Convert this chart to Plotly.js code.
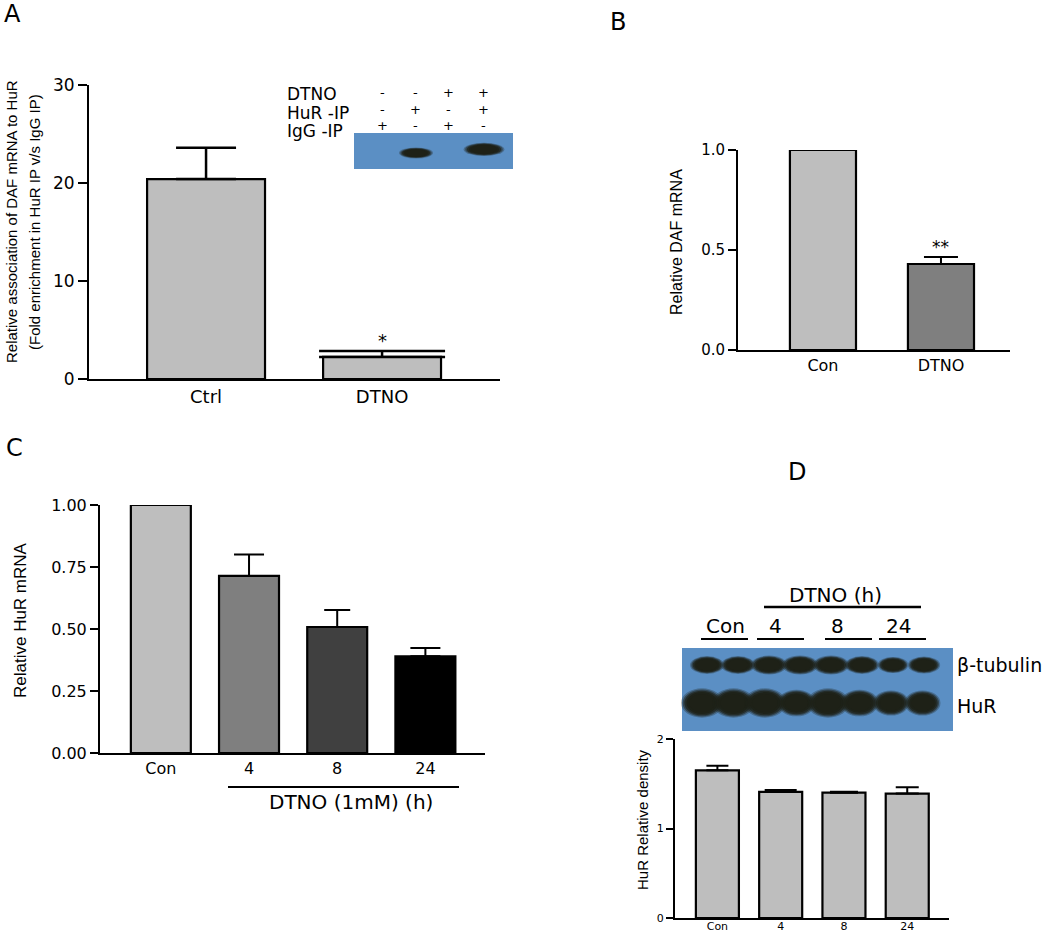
<!DOCTYPE html>
<html><head><meta charset="utf-8">
<script src="https://cdn.plot.ly/plotly-3.0.1.min.js"></script>
<style>html,body{margin:0;padding:0;background:#fff}</style>
</head><body><div id="chart" style="width:1050px;height:934px"></div>
<script>
// ---------- DATA ----------
// Panel A: RNA-IP
const catsA = ['Ctrl', 'DTNO'];
const valsA = [20.4, 2.25];
const errA = [3.2, 0.6];
const sigA = ['', '*'];
// Panel B: DAF mRNA
const catsB = ['Con', 'DTNO'];
const valsB = [1.0, 0.43];
const errB = [0, 0.035];
const sigB = ['', '**'];
// Panel C: HuR mRNA
const catsC = ['Con', '4', '8', '24'];
const valsC = [1.0, 0.714, 0.508, 0.39];
const errC = [0, 0.086, 0.069, 0.033];
const sigC = ['', '', '†', '‡'];
// Panel D: HuR relative density
const catsD = ['Con', '4', '8', '24'];
const valsD = [1.65, 1.41, 1.40, 1.39];
const errD = [0.05, 0.02, 0.01, 0.07];
// Blot A labels / signs / band intensities
const blotARows = ['DTNO', 'HuR -IP', 'IgG -IP'];
const blotASigns = [['-', '-', '+', '+'], ['-', '+', '-', '+'], ['+', '-', '+', '-']];
const bandA = [0, 1, 0, 1.2];
// Blot D labels / band intensities
const blotDGroup = 'DTNO (h)';
const blotDLanes = ['Con', '4', '8', '24'];
const blotDRows = ['β-tubulin', 'HuR'];
const bandTub = [1, 1, 1.05, 1.05, 1.05, 1, 0.9, 0.95];
const bandHuR = [1.05, 1.05, 1.05, 0.95, 1.05, 0.95, 0.9, 0.9];
const xTitleC = 'DTNO (1mM) (h)';

// ---------- HELPERS ----------
const W = 1050, H = 934;
const px = x => x / W, py = y => 1 - y / H;
const FONT = 'DejaVu Sans, Verdana, Arial, sans-serif';
const NARROW = 'Liberation Sans Narrow, Arial Narrow, Liberation Sans, Arial, sans-serif';
const traces = [], shapes = [], annotations = [];

function barPanel(ax, cats, vals, errs, colors, barWidth, capW, thick) {
  const xa = 'x' + ax, ya = 'y' + ax;
  traces.push({
    type: 'bar', x: cats, y: vals, xaxis: xa, yaxis: ya, width: barWidth, cliponaxis: false,
    marker: {color: colors, line: {color: '#000', width: 2.2}}, hoverinfo: 'skip'
  });
  cats.forEach((c, i) => {
    if (!errs[i]) return;
    traces.push({
      type: 'scatter', mode: 'markers', x: [c], y: [vals[i]], xaxis: xa, yaxis: ya,
      marker: {opacity: 0, size: 1}, hoverinfo: 'skip', cliponaxis: false,
      error_y: {type: 'data', symmetric: false, array: [errs[i]], arrayminus: [0],
        color: '#000', thickness: thick, width: capW[i]}
    });
  });
}
function sigMarks(ax, cats, vals, errs, sigs, size, shift) {
  cats.forEach((c, i) => {
    if (!sigs[i]) return;
    annotations.push({xref: 'x' + ax, yref: 'y' + ax, x: c, y: vals[i] + errs[i],
      text: sigs[i], showarrow: false, yanchor: 'bottom', yshift: shift,
      font: {family: FONT, size: size, color: '#000'}});
  });
}
function txt(x, y, text, size, opts) {
  annotations.push(Object.assign({xref: 'paper', yref: 'paper', x: px(x), y: py(y), text: text,
    showarrow: false, xanchor: 'center', yanchor: 'middle',
    font: {family: FONT, size: size, color: '#000'}}, opts || {}));
}
function vtxt(x, y, text, size) {
  txt(x, y, text, size, {textangle: -90, font: {family: NARROW, size: size, color: '#000'}});
}
function hline(x0, x1, y, w) {
  shapes.push({type: 'line', xref: 'paper', yref: 'paper', x0: px(x0), x1: px(x1), y0: py(y), y1: py(y),
    line: {color: '#000', width: w}});
}
function band(cx, cy, w, h) {
  const layers = [[1.0, 0.3], [0.92, 0.5], [0.84, 0.7], [0.74, 0.9], [0.62, 1.0]];
  layers.forEach(([s, op]) => {
    shapes.push({type: 'circle', xref: 'paper', yref: 'paper',
      x0: px(cx - w * s / 2), x1: px(cx + w * s / 2), y0: py(cy + h * s / 2), y1: py(cy - h * s / 2),
      fillcolor: '#1e2117', opacity: op, line: {width: 0}});
  });
}
function xax(dom, range, cats, size) {
  return {domain: [px(dom[0]), px(dom[1])], range: range, type: 'category', categoryarray: cats,
    showline: true, linecolor: '#000', linewidth: 2, ticks: '', showgrid: false, zeroline: false,
    tickfont: {family: FONT, size: size, color: '#000'}, fixedrange: true};
}
function yax(dom, range, dtick, fmt, size, tl) {
  return {domain: [py(dom[1]), py(dom[0])], range: range, dtick: dtick, tick0: 0, tickformat: fmt,
    showline: true, linecolor: '#000', linewidth: 2, ticks: 'outside', ticklen: tl, tickwidth: 2,
    tickcolor: '#000', showgrid: false, zeroline: false,
    tickfont: {family: FONT, size: size, color: '#000'}, fixedrange: true};
}

// ---------- PANEL A ----------
barPanel('', catsA, valsA, errA, ['#bebebe', '#bebebe'], 0.67, [30, 63], 2.5);
sigMarks('', catsA, valsA, errA, sigA, 18, -2);
vtxt(11, 222, 'Relative association of DAF mRNA to HuR', 15);
vtxt(34, 222, '(Fold enrichment in HuR IP v/s IgG IP)', 15);
txt(12, 14, 'A', 24);
// inset blot A
shapes.push({type: 'rect', xref: 'paper', yref: 'paper', x0: px(354), x1: px(513), y0: py(169), y1: py(133),
  fillcolor: '#5b8fc4', line: {width: 0}});
const laneA = [383, 416, 449, 484];
bandA.forEach((v, i) => { if (v) band(laneA[i], 153 - (v - 1) * 18, 34 * v, 11 * v); });
const rowYA = [94, 113, 131], signY = [93, 109, 125];
blotARows.forEach((r, j) => {
  txt(285, rowYA[j], r, 17, {xanchor: 'left'});
  blotASigns[j].forEach((s, i) => txt(laneA[i] - 1, signY[j], s, 13));
});

// ---------- PANEL B ----------
barPanel('2', catsB, valsB, errB, ['#bebebe', '#7f7f7f'], 0.56, [0, 17], 2);
sigMarks('2', catsB, valsB, errB, sigB, 17, -2);
vtxt(677, 242, 'Relative DAF mRNA', 16);
txt(618, 22, 'B', 24);

// ---------- PANEL C ----------
barPanel('3', catsC, valsC, errC, ['#bebebe', '#7f7f7f', '#404040', '#000000'], 0.68, [0, 15, 13, 15], 2);
sigMarks('3', catsC, valsC, errC, sigC, 18, 4);
vtxt(20, 620, 'Relative HuR mRNA', 17);
txt(14, 448, 'C', 24);
hline(228, 459, 787, 2.2);
txt(351, 802, xTitleC, 20);

// ---------- PANEL D ----------
barPanel('4', catsD, valsD, errD, ['#bebebe', '#bebebe', '#bebebe', '#bebebe'], 0.68, [11, 16, 14, 11.5], 2);
vtxt(642, 820, 'HuR Relative density', 15);
txt(797, 472, 'D', 24);
// blot D
shapes.push({type: 'rect', xref: 'paper', yref: 'paper', x0: px(682), x1: px(953), y0: py(731), y1: py(648),
  fillcolor: '#5b8fc4', line: {width: 0}});
bandTub.forEach((v, i) => band(707 + i * 31, 665, 34 * v, 18 * v));
bandHuR.forEach((v, i) => band(702 + i * 31.5, 703, 40 * v, 28 * v));
txt(955, 665, blotDRows[0], 19, {xanchor: 'left'});
txt(955, 706, blotDRows[1], 19, {xanchor: 'left'});
txt(835, 595, blotDGroup, 20);
hline(764, 921, 607, 2.5);
const laneLabX = [725, 775, 837, 898];
const ulines = [[701, 748], [757, 804], [825, 872], [879, 926]];
blotDLanes.forEach((l, i) => {
  txt(laneLabX[i], 626, l, 20);
  hline(ulines[i][0], ulines[i][1], 639, 2);
});

const layout = {
  width: W, height: H, margin: {l: 0, r: 0, t: 0, b: 0}, showlegend: false,
  paper_bgcolor: '#fff', plot_bgcolor: 'rgba(0,0,0,0)', barmode: 'overlay',
  xaxis: xax([89, 500], [-0.665, 1.67], catsA, 18),
  yaxis: yax([85, 379], [0, 30], 10, 'd', 17, 9),
  xaxis2: Object.assign(xax([738, 1010], [-0.72, 1.585], catsB, 16), {anchor: 'y2'}),
  yaxis2: Object.assign(yax([150, 350], [0, 1], 0.5, '.1f', 15, 8), {anchor: 'x2'}),
  xaxis3: Object.assign(xax([100, 485], [-0.69, 3.676], catsC, 16), {anchor: 'y3'}),
  yaxis3: Object.assign(yax([505, 753], [0, 1], 0.25, '.2f', 16, 8), {anchor: 'x3'}),
  xaxis4: Object.assign(xax([675, 949], [-0.67, 3.66], catsD, 11), {anchor: 'y4', ticklabelstandoff: -3}),
  yaxis4: Object.assign(yax([739, 918], [0, 2], 1, 'd', 11, 7), {anchor: 'x4'}),
  shapes: shapes, annotations: annotations
};
Plotly.newPlot('chart', traces, layout, {staticPlot: true, displayModeBar: false});
</script></body></html>
